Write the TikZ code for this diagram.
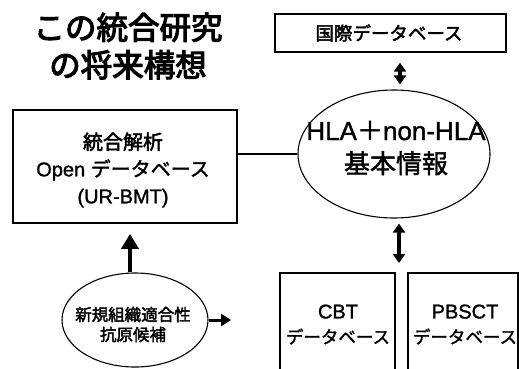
\documentclass[tikz,border=0pt]{standalone}
\usepackage{fontspec}
\setmainfont{Liberation Sans}[FakeBold=1.3]
\newfontfamily\jp{Noto Sans CJK JP}[FakeBold=1.6]
\newfontfamily\jpb{Noto Sans CJK JP}[FakeBold=3.6]
\newfontfamily\jpm{Noto Sans CJK JP}[FakeBold=2.4]
\usetikzlibrary{arrows.meta,shapes.geometric}
\tikzset{
  boxA/.style={draw, line width=1.8pt, rectangle, inner sep=0pt},
  ellA/.style={draw, line width=1.1pt, ellipse, inner sep=0pt},
  txt/.style={align=center, inner sep=0pt},
  dbl/.style={line width=3.5pt, {Triangle[width=12pt,length=9pt]}-{Triangle[width=12pt,length=9pt]}},
  uparr/.style={line width=4pt, -{Triangle[width=17pt,length=15pt]}},
  rtarr/.style={line width=3pt, -{Triangle[width=12pt,length=10pt]}},
}
\begin{document}
\begin{tikzpicture}[x=1pt,y=-1pt]
\useasboundingbox (0,0) rectangle (519,368);
\clip (0,0) rectangle (519,368);
% title
\node[txt, font=\jpb\fontsize{31.5}{37.5}\selectfont] (title) at (128,46) {この統合研究\\の将来構想};
% top box
\node[boxA, line width=1.4pt, minimum width=231pt, minimum height=38pt] (top) at (390.5,33) {};
\node[txt, font=\jpm\fontsize{18.5}{20}\selectfont] (toptxt) at (389,33) {国際データベース};
% main ellipse
\node[ellA, minimum width=192pt, minimum height=128pt] (ell) at (394,154) {};
\node[txt, font=\fontsize{26}{33}\selectfont] (elltxt) at (396,148) {HLA{\jp ＋}non-HLA\\{\jp 基本情報}};
% left box
\node[boxA, minimum width=224pt, minimum height=113pt] (lbox) at (125,166.5) {};
\node[txt, font=\fontsize{20}{27}\selectfont] (lboxtxt) at (123,170) {{\jpm 統合解析}\\Open {\jp データベース}\\(UR-BMT)};
% bottom ellipse
\node[ellA, minimum width=146pt, minimum height=94pt] (be) at (135,320) {};
\node[txt, font=\jpm\fontsize{16.5}{20}\selectfont] (betxt) at (133,324.5) {新規組織適合性\\抗原候補};
% bottom boxes
\node[boxA, minimum width=115pt, minimum height=120pt] (cbt) at (337.5,333) {};
\node[txt, font=\fontsize{20}{25}\selectfont] (cbttxt) at (338,324.5) {CBT\\{\jp\fontsize{17.5}{20}\selectfont データベース}};
\node[boxA, minimum width=110pt, minimum height=120pt] (pb) at (463,333) {};
\node[txt, font=\fontsize{20}{25}\selectfont] (pbtxt) at (465,324.5) {PBSCT\\{\jp\fontsize{17.5}{20}\selectfont データベース}};
% connectors
\coordinate (gaptop) at (399,263);
\coordinate (rt) at (231,320);
\draw[dbl, shorten <=10pt, shorten >=5pt] ([xshift=9.5pt]top.south) -- ([xshift=6pt]ell.north);
\draw[dbl, shorten <=5pt] ([xshift=5pt]ell.south) -- (gaptop);
\draw[line width=1.8pt] (lbox.east |- ell.west) -- (ell.west);
\draw[uparr, shorten >=10pt] ([xshift=-5pt]be.north) -- ([xshift=5pt]lbox.south);
\draw[rtarr] (be.east) -- (rt);
\end{tikzpicture}
\end{document}
